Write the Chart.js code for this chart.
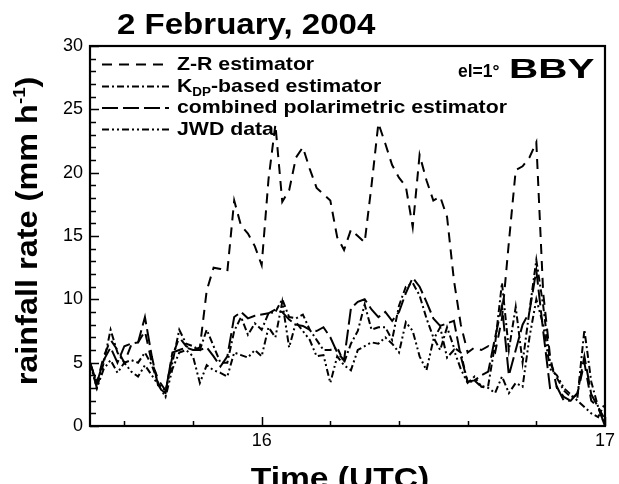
<!DOCTYPE html>
<html>
<head>
<meta charset="utf-8">
<script src="https://cdn.jsdelivr.net/npm/chart.js@4.4.1/dist/chart.umd.min.js"></script>
<style>
  html, body { margin: 0; padding: 0; background: #fff; }
  #wrap { width: 619px; height: 484px; position: relative; }
</style>
</head>
<body>
<div id="wrap"><canvas id="rainChart"></canvas></div>
<script>
// time (UTC, decimal hours)
const times = [
  15.50, 15.52, 15.54, 15.56, 15.58, 15.60, 15.62, 15.64, 15.66, 15.68,
  15.70, 15.72, 15.74, 15.76, 15.78, 15.80, 15.82, 15.84, 15.86, 15.88,
  15.90, 15.92, 15.94, 15.96, 15.98, 16.00, 16.02, 16.04, 16.06, 16.08,
  16.10, 16.12, 16.14, 16.16, 16.18, 16.20, 16.22, 16.24, 16.26, 16.28,
  16.30, 16.32, 16.34, 16.36, 16.38, 16.40, 16.42, 16.44, 16.46, 16.48,
  16.50, 16.52, 16.54, 16.56, 16.58, 16.60, 16.62, 16.64, 16.66, 16.68,
  16.70, 16.72, 16.74, 16.76, 16.78, 16.80, 16.82, 16.84, 16.86, 16.88,
  16.90, 16.92, 16.94, 16.96, 16.98, 17.00
];

// rainfall rate, mm/h
const zrRate = [
  5.0, 3.4, 5.5, 6.8, 6.0, 5.0, 6.4, 6.6, 7.5, 5.0,
  3.6, 2.8, 5.5, 7.0, 6.3, 6.0, 6.2, 10.7, 12.5, 12.4,
  12.2, 17.8, 15.8, 15.2, 14.2, 12.7, 19.5, 23.8, 17.7, 18.6,
  21.2, 22.0, 20.3, 18.8, 18.3, 17.8, 14.9, 13.9, 15.5, 15.0,
  14.5, 19.0, 23.9, 22.3, 20.6, 19.6, 18.9, 15.7, 21.4, 19.4,
  17.8, 18.1, 16.5, 11.5, 8.0, 5.8, 6.2, 6.0, 6.3, 5.8,
  8.5, 14.5, 20.2, 20.5, 21.2, 22.4, 10.5, 5.5, 3.0, 2.3,
  2.0, 2.6, 5.0, 2.0, 1.5, 0.5
];
const kdpRate = [
  5.0, 3.0, 5.0, 7.6, 5.8, 5.0, 5.2, 5.0, 5.8, 4.8,
  3.3, 2.8, 5.0, 7.6, 6.5, 6.3, 6.0, 7.6, 6.3, 5.0,
  5.0, 7.5, 8.6, 7.2, 8.1, 7.6, 8.9, 9.0, 10.0, 8.6,
  8.5, 8.8, 7.6, 6.8, 6.0, 6.0, 6.2, 5.0, 6.5, 7.5,
  9.6, 7.6, 7.8, 7.8, 6.8, 9.5, 11.0, 11.3, 10.3, 8.5,
  7.0, 6.0, 7.8, 6.2, 5.8, 3.4, 3.6, 3.1, 3.2, 6.5,
  11.3, 6.0, 9.4, 5.0, 9.1, 13.1, 9.5, 5.0, 3.8, 2.8,
  2.3, 2.3, 7.6, 3.5, 1.5, 0.0
];
const combRate = [
  5.0, 3.4, 5.2, 6.2, 5.0, 6.3, 6.5, 6.6, 8.6, 5.5,
  3.0, 2.6, 5.8, 6.0, 6.2, 6.0, 6.0, 6.2, 5.5, 4.7,
  5.5, 8.6, 9.0, 8.5, 8.7, 8.8, 8.9, 9.2, 9.0, 8.4,
  8.0, 7.9, 7.6, 7.5, 7.8, 7.0, 5.8, 5.2, 9.3, 9.8,
  10.0, 9.2, 8.6, 9.0, 8.3, 9.0, 10.5, 11.7, 11.0, 9.8,
  8.5, 7.9, 8.1, 8.3, 5.5, 3.5, 3.6, 4.0, 4.3, 7.0,
  9.5, 4.0, 6.0, 8.0, 9.0, 12.3, 7.5, 3.0, 3.1, 2.0,
  2.0, 2.6, 5.5, 2.5, 1.5, 0.0
];
const jwdRate = [
  5.0, 3.0, 4.5, 5.2, 4.2, 5.0, 4.3, 3.9, 4.8, 4.0,
  3.2, 2.3, 4.5, 5.8, 6.0, 5.5, 3.4, 4.8, 4.4, 4.2,
  3.9, 5.8, 5.6, 5.4, 6.0, 5.5, 7.8, 7.0, 9.8, 6.2,
  8.2, 7.5, 6.8, 5.5, 5.6, 3.4, 5.5, 4.8, 4.4, 6.0,
  6.3, 6.6, 6.5, 7.0, 6.5, 5.8, 8.2, 7.5, 5.5, 4.4,
  6.8, 7.8, 5.4, 6.0, 4.5, 3.4, 3.9, 3.1, 3.0, 2.6,
  3.9, 2.6, 3.4, 3.1, 7.0, 10.0, 8.0, 4.5, 4.0, 3.0,
  2.5, 2.0, 1.5, 1.0, 0.7, 1.8
];

const xTicks = [16, 17];
const yTicks = [0, 5, 10, 15, 20, 25, 30];

const series = [
  { label: "Z-R estimator", data: zrRate, dash: [10, 7] },
  { label: "K_DP-based estimator", data: kdpRate, dash: [7, 3, 2, 3] },
  { label: "combined polarimetric estimator", data: combRate, dash: [16, 5] },
  { label: "JWD data", data: jwdRate, dash: [7, 3, 2, 3, 2, 3] },
];

const FONT = "'Liberation Sans', Arial, Helvetica, sans-serif";
Chart.defaults.font.family = FONT;
Chart.defaults.color = "#000";

// text squeezed/stretched horizontally around its anchor
function drawText(ctx, str, x, y, size, opts = {}) {
  const sx = opts.sx || 1;
  ctx.save();
  ctx.font = (opts.weight || "bold") + " " + size + "px " + FONT;
  ctx.textBaseline = "alphabetic";
  ctx.textAlign = "left";
  const w = ctx.measureText(str).width * sx;
  let x0 = x;
  if (opts.align === "center") x0 = x - w / 2;
  if (opts.align === "right") x0 = x - w;
  ctx.translate(x0, y);
  ctx.scale(sx, 1);
  ctx.fillStyle = "#000";
  ctx.fillText(str, 0, 0);
  ctx.restore();
  return w;
}
function textWidth(ctx, str, size, sx) {
  ctx.save();
  ctx.font = "bold " + size + "px " + FONT;
  const w = ctx.measureText(str).width * (sx || 1);
  ctx.restore();
  return w;
}

const decorations = {
  id: "decorations",
  afterDraw(chart) {
    const { ctx, chartArea: a, scales } = chart;
    const x = scales.x, y = scales.y;
    ctx.save();

    // inward tick marks on left and bottom axes
    ctx.strokeStyle = "#000";
    ctx.lineWidth = 1.5;
    ctx.beginPath();
    for (let v = 0; v <= 30; v++) {
      const py = Math.round(y.getPixelForValue(v)) + 0.5;
      const len = v % 5 === 0 ? 9 : 6;
      ctx.moveTo(a.left, py);
      ctx.lineTo(a.left + len, py);
    }
    for (let k = 78; k <= 85; k++) {
      const px = Math.round(x.getPixelForValue(k / 5)) + 0.5;
      const len = k % 5 === 0 ? 9 : 5;
      ctx.moveTo(px, a.bottom);
      ctx.lineTo(px, a.bottom - len);
    }
    ctx.stroke();

    // plot frame
    ctx.lineWidth = 2.2;
    ctx.strokeRect(a.left, a.top, a.right - a.left, a.bottom - a.top);

    // legend
    const rows = [69.5, 91.5, 113, 134.5];
    ctx.lineWidth = 2;
    series.forEach((s, i) => {
      const ly = rows[i] - 5;
      ctx.setLineDash(s.dash);
      ctx.beginPath();
      ctx.moveTo(102, ly);
      ctx.lineTo(169, ly);
      ctx.stroke();
    });
    ctx.setLineDash([]);
    const lsz = 19, lsx = 1.12;
    drawText(ctx, "Z-R estimator", 177, rows[0], lsz, { sx: lsx });
    let cx = 177;
    cx += drawText(ctx, "K", cx, rows[1], lsz, { sx: lsx });
    cx += drawText(ctx, "DP", cx, rows[1] + 4, 12, { sx: lsx });
    drawText(ctx, "-based estimator", cx, rows[1], lsz, { sx: lsx });
    drawText(ctx, "combined polarimetric estimator", 177, rows[2], lsz, { sx: lsx });
    drawText(ctx, "JWD data", 177, rows[3], lsz, { sx: lsx });

    // station / elevation tag
    drawText(ctx, "el=1°", 458, 77, 17.5);
    drawText(ctx, "BBY", 509, 78, 28.5, { sx: 1.42 });

    // chart title
    drawText(ctx, "2 February, 2004", 117, 34, 29.5, { sx: 1.12 });

    // x-axis title
    drawText(ctx, "Time (UTC)", 340, 488, 30, { sx: 1.12, align: "center" });

    // y-axis title, rotated, with superscript
    const ysz = 29.5, ysx = 1.1;
    const p1 = "rainfall rate (mm h", sup = "-1", p2 = ")";
    const total = textWidth(ctx, p1, ysz, ysx) + textWidth(ctx, sup, 17, ysx) + textWidth(ctx, p2, ysz, ysx);
    ctx.save();
    ctx.translate(37, 231);
    ctx.rotate(-Math.PI / 2);
    let tx = -total / 2;
    tx += drawText(ctx, p1, tx, 0, ysz, { sx: ysx });
    tx += drawText(ctx, sup, tx, -12, 17, { sx: ysx });
    drawText(ctx, p2, tx, 0, ysz, { sx: ysx });
    ctx.restore();

    ctx.restore();
  },
};

new Chart(document.getElementById("rainChart").getContext("2d"), {
  type: "line",
  data: {
    datasets: series.map((s) => ({
      label: s.label,
      data: times.map((t, i) => ({ x: t, y: s.data[i] })),
      borderColor: "#000",
      borderWidth: 2,
      borderDash: s.dash,
      pointRadius: 0,
      tension: 0,
      fill: false,
    })),
  },
  options: {
    responsive: true,
    maintainAspectRatio: false,
    animation: false,
    layout: { padding: { top: 46, right: 12, left: 0, bottom: 0 } },
    plugins: {
      legend: { display: false },
      tooltip: { enabled: false },
    },
    scales: {
      x: {
        type: "linear",
        min: 15.5,
        max: 17,
        afterBuildTicks: (s) => { s.ticks = xTicks.map((v) => ({ value: v })); },
        afterFit: (s) => { s.height = 58; },
        grid: { display: false, drawTicks: false },
        border: { display: false },
        ticks: { font: { size: 18 }, color: "#000", padding: 4, maxRotation: 0 },
      },
      y: {
        min: 0,
        max: 30,
        afterBuildTicks: (s) => { s.ticks = yTicks.map((v) => ({ value: v })); },
        afterFit: (s) => { s.width = 90; },
        grid: { display: false, drawTicks: false },
        border: { display: false },
        ticks: { font: { size: 18 }, color: "#000", padding: 7 },
      },
    },
  },
  plugins: [decorations],
});
</script>
</body>
</html>
